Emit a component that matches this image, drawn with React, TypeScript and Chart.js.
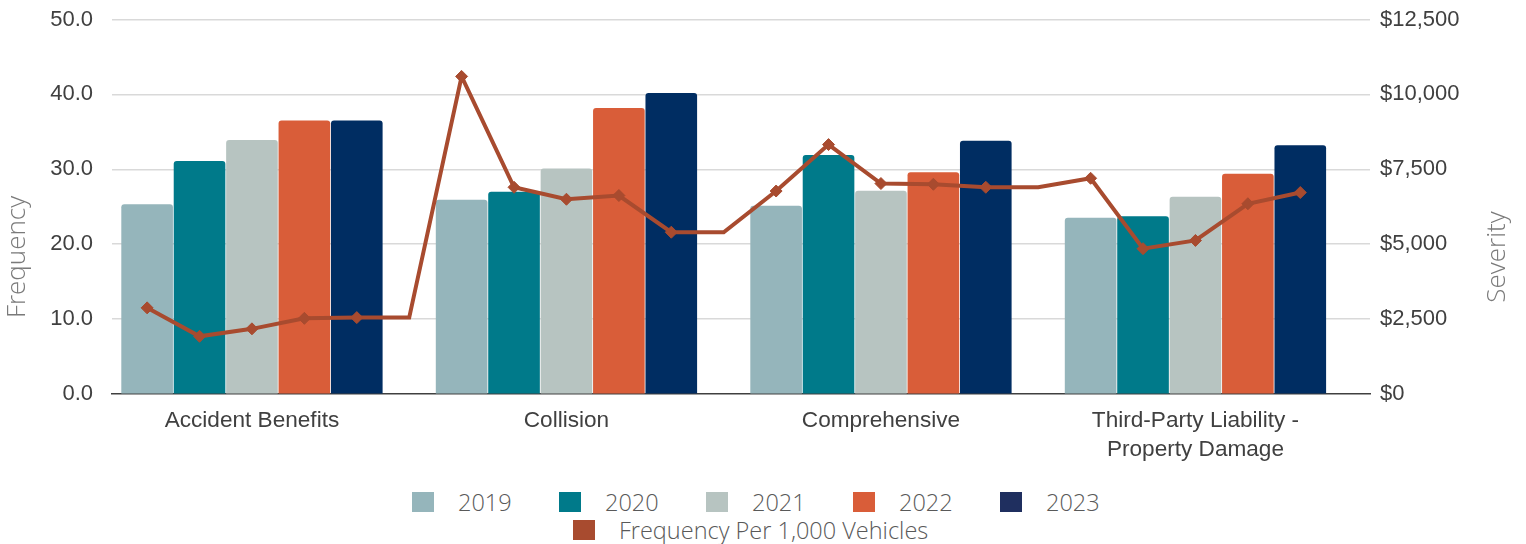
import React, { useEffect, useRef } from "react";
import { Chart, registerables } from "chart.js";

Chart.register(...registerables);

// Coverage categories shown on the x axis
const categories = [
  "Accident Benefits",
  "Collision",
  "Comprehensive",
  "Third-Party Liability - Property Damage",
];
const categoryLabelLines = [
  ["Accident Benefits"],
  ["Collision"],
  ["Comprehensive"],
  ["Third-Party Liability -", "Property Damage"],
];

const years = ["2019", "2020", "2021", "2022", "2023"];
const yearColors = ["#95b5bb", "#007a8a", "#b7c4c1", "#d95d39", "#002d62"];
const yearLegendColors = ["#95b5bb", "#007a8a", "#b7c4c1", "#d95d39", "#1f2f5f"];

// Severity ($) per coverage, one array per year
const severity2019 = [6330, 6480, 6280, 5880];
const severity2020 = [7780, 6750, 7980, 5930];
const severity2021 = [8480, 7530, 6780, 6580];
const severity2022 = [9130, 9550, 7400, 7350];
const severity2023 = [9130, 10050, 8450, 8300];
const severityByYear = [severity2019, severity2020, severity2021, severity2022, severity2023];

// Frequency per 1,000 vehicles, 2019-2023 within each coverage
const freqAccidentBenefits = [11.5, 7.7, 8.7, 10.1, 10.2];
const freqCollision = [42.4, 27.6, 26.0, 26.5, 21.6];
const freqComprehensive = [27.1, 33.3, 28.1, 28.0, 27.6];
const freqThirdParty = [28.8, 19.4, 20.5, 25.4, 26.9];
const freqByCategory = [freqAccidentBenefits, freqCollision, freqComprehensive, freqThirdParty];

const frequencyTicks = [0, 10, 20, 30, 40, 50];
const severityTicks = [0, 2500, 5000, 7500, 10000, 12500];

const lineLabel = "Frequency Per 1,000 Vehicles";
const lineColor = "#a84b2f";

const CANVAS_W = 1526;
const CANVAS_H = 480;

// Each coverage holds one slot per year plus one empty slot between groups.
const slotsPerCategory = years.length + 1;

function buildFrequencyLine() {
  const points: { x: number; y: number }[] = [];
  const radii: number[] = [];
  freqByCategory.forEach((vals, i) => {
    vals.forEach((v, j) => {
      points.push({ x: i + (j - (vals.length - 1) / 2) / slotsPerCategory, y: v });
      radii.push(6);
    });
    // the line runs flat through the empty slot to the next coverage
    if (i < freqByCategory.length - 1) {
      points.push({ x: i + 0.5, y: vals[vals.length - 1] });
      radii.push(0);
    }
  });
  return { points, radii };
}

const tickFont = { family: '"Liberation Sans", Arial, sans-serif', size: 22 };
const tickColor = "#404040";
const clear = "rgba(0,0,0,0)";

const axisTitles = {
  id: "axisTitles",
  afterDraw(chart: any) {
    const ctx = chart.ctx;
    ctx.save();
    ctx.font = '300 26px "Open Sans", sans-serif';
    ctx.fillStyle = "#7a7a7a";
    ctx.textAlign = "center";
    ctx.textBaseline = "middle";
    const cy = 257;
    ctx.save();
    ctx.translate(18, cy);
    ctx.rotate(-Math.PI / 2);
    ctx.fillText("Frequency", 0, 0);
    ctx.restore();
    ctx.save();
    ctx.translate(1498, cy);
    ctx.rotate(-Math.PI / 2);
    ctx.fillText("Severity", 0, 0);
    ctx.restore();
    ctx.restore();
  },
};

export default function App() {
  const canvasRef = useRef<HTMLCanvasElement | null>(null);

  useEffect(() => {
    if (!canvasRef.current) return;
    const { points, radii } = buildFrequencyLine();

    const barSets = years.map((yr, k) => ({
      type: "bar" as const,
      label: yr,
      data: severityByYear[k].map((v, i) => ({ x: i, y: v })),
      backgroundColor: yearColors[k],
      borderWidth: 0,
      borderRadius: { topLeft: 3, topRight: 3, bottomLeft: 0, bottomRight: 0 },
      borderSkipped: "start" as const,
      categoryPercentage: years.length / slotsPerCategory,
      barPercentage: 0.985,
      xAxisID: "x",
      yAxisID: "y1",
      order: 1,
    }));

    const chart = new Chart(canvasRef.current, {
      type: "bar",
      data: {
        datasets: [
          ...barSets,
          {
            type: "line" as const,
            label: lineLabel,
            data: points,
            borderColor: lineColor,
            backgroundColor: lineColor,
            borderWidth: 4,
            tension: 0,
            pointStyle: "rectRot",
            pointRadius: radii,
            pointBackgroundColor: lineColor,
            pointBorderColor: lineColor,
            pointBorderWidth: 1,
            xAxisID: "x",
            yAxisID: "y",
            order: 0,
          } as any,
        ],
      },
      options: {
        responsive: false,
        animation: false,
        devicePixelRatio: 1,
        layout: { padding: { top: 19.5, left: 0, right: 0, bottom: 0 } },
        plugins: {
          legend: { display: false },
          tooltip: { enabled: false },
        },
        scales: {
          x: {
            type: "linear",
            offset: false,
            min: -0.445,
            max: 3.555,
            afterBuildTicks: (s: any) => {
              s.ticks = categories.map((_, i) => ({ value: i }));
            },
            afterFit: (s: any) => {
              s.height = CANVAS_H - 394;
            },
            ticks: {
              autoSkip: false,
              maxRotation: 0,
              minRotation: 0,
              padding: 13,
              font: { ...tickFont, size: 22.6, lineHeight: 1.26 },
              color: tickColor,
              callback: (_v: any, i: number) => categoryLabelLines[i],
            },
            grid: { display: false, drawTicks: false, offset: false },
            border: { display: true, color: "#404040", width: 1.5 },
          },
          y: {
            type: "linear",
            position: "left",
            min: 0,
            max: 50,
            afterBuildTicks: (s: any) => {
              s.ticks = frequencyTicks.map((v) => ({ value: v }));
            },
            afterFit: (s: any) => {
              s.width = 112;
            },
            ticks: {
              padding: 0,
              font: tickFont,
              color: tickColor,
              callback: (v: any) => Number(v).toFixed(1),
            },
            grid: {
              drawTicks: true,
              tickLength: 19,
              tickColor: clear,
              lineWidth: 1.5,
              color: (c: any) => (c.tick && c.tick.value === 0 ? clear : "#d9d9d9"),
            },
            border: { display: false },
          },
          y1: {
            type: "linear",
            position: "right",
            min: 0,
            max: 12500,
            afterBuildTicks: (s: any) => {
              s.ticks = severityTicks.map((v) => ({ value: v }));
            },
            afterFit: (s: any) => {
              s.width = CANVAS_W - 1370;
            },
            ticks: {
              padding: 0,
              font: tickFont,
              color: tickColor,
              callback: (v: any) => "$" + Number(v).toLocaleString("en-US"),
            },
            grid: {
              display: true,
              drawOnChartArea: false,
              drawTicks: true,
              tickLength: 10,
              tickColor: clear,
              color: clear,
            },
            border: { display: false },
          },
        },
      },
      plugins: [axisTitles],
    });

    return () => chart.destroy();
  }, []);

  const legendText: React.CSSProperties = {
    font: '300 23.5px "Open Sans", sans-serif',
    color: "#595959",
    lineHeight: "28px",
    whiteSpace: "nowrap",
  };
  const box = (color: string): React.CSSProperties => ({
    display: "inline-block",
    width: 22,
    height: 20,
    background: color,
    marginRight: 24,
    flex: "none",
  });

  return (
    <div style={{ width: CANVAS_W, height: 544, position: "relative", background: "#fff" }}>
      <style>{"body{margin:0;background:#fff}"}</style>
      <canvas ref={canvasRef} width={CANVAS_W} height={CANVAS_H} style={{ display: "block" }} />
      <div style={{ position: "absolute", top: 488, left: 412, display: "flex" }}>
        {years.map((yr, k) => (
          <div key={yr} style={{ width: 147, display: "flex", alignItems: "center", height: 28 }}>
            <span style={box(yearLegendColors[k])} />
            <span style={legendText}>{yr}</span>
          </div>
        ))}
      </div>
      <div style={{ position: "absolute", top: 516, left: 573, display: "flex", alignItems: "center", height: 28 }}>
        <span style={box(lineColor)} />
        <span style={legendText}>{lineLabel}</span>
      </div>
    </div>
  );
}
